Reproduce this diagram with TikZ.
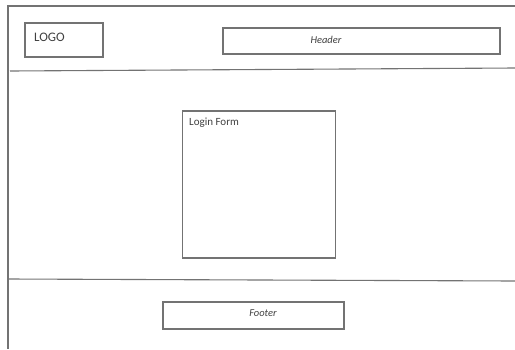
\documentclass[tikz,border=0pt]{standalone}
\usepackage{fontspec}
\setmainfont{Carlito}
\usetikzlibrary{positioning}

\tikzset{
  wire/.style={line width=1.1pt, color=black!55},
  box/.style={draw=black!55, line width=1.1pt, inner sep=0pt},
  label/.style={text=black!75, inner sep=0pt},
}

\begin{document}
\begin{tikzpicture}[x=1pt, y=-1pt]
		%%%%% START %%%%%
		\useasboundingbox (0, 0) rectangle (515, 349);
		
		% page frame and separators
		\draw[wire] (515, 6) -- (8, 6) -- (8, 349);
		\draw[wire] (10, 71) -- (515, 68);
		\draw[wire] (8, 279) -- (515, 281);
		
		% header row
		\node[box, minimum width=78pt, minimum height=34pt] (logobox) at (64, 40) {};
		\node[label, anchor=west, font=\fontsize{13}{15}\selectfont] (logo) at (34, 37) {LOGO};
		
		\node[box, minimum width=277pt, minimum height=26pt] (headerbox) at (361.5, 41) {};
		\node[label, font=\fontsize{10.5}{12}\itshape] (header) at (326, 40) {Header};
		
		% body
		\node[box, minimum width=153pt, minimum height=147pt] (loginbox) at (259, 184.5) {};
		\node[label, anchor=north west, font=\fontsize{11}{13}\selectfont] (login) at (189, 118) {Login Form};
		
		% footer row
		\node[box, minimum width=181pt, minimum height=27pt] (footerbox) at (253.5, 315.5) {};
		\node[label, font=\fontsize{10.5}{12}\itshape] (footer) at (263, 313) {Footer};
		
		%%%%% END %%%%%
	\end{tikzpicture}
\end{document}
